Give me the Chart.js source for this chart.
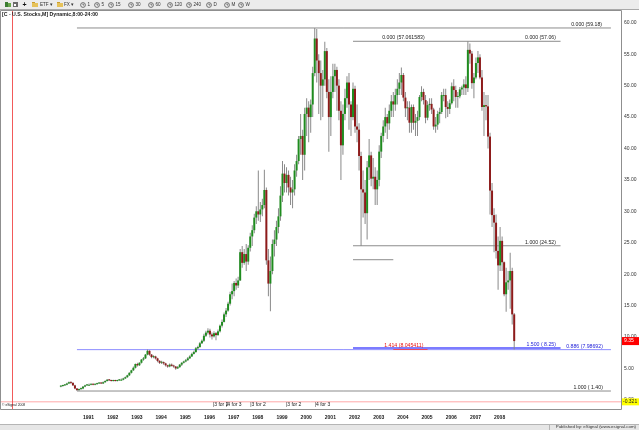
<!DOCTYPE html>
<html>
<head>
<meta charset="utf-8">
<script src="https://cdn.jsdelivr.net/npm/chart.js@4.4.0/dist/chart.umd.min.js"></script>
<style>
  html, body { margin: 0; padding: 0; background: #fff; }
  canvas { display: block; }
</style>
</head>
<body>
<canvas id="chart" width="639" height="430"></canvas>
<script>
// C monthly bars, Feb 1990 .. Nov 2008 (month index counted from Jan 1991)
const FIRST_MONTH = -11;
const FIRST_OPEN = 2.1;

const closes = [
  /*1990*/ 2.2, 2.3, 2.4, 2.6, 2.8, 2.7, 2.3, 1.8, 1.55, 1.7, 1.8,
  /*1991*/ 2.1, 2.3, 2.4, 2.4, 2.5, 2.4, 2.5, 2.6, 2.7, 2.6, 2.8, 3.0,
  /*1992*/ 3.2, 3.1, 3.0, 3.1, 3.0, 3.1, 3.2, 3.2, 3.4, 3.6, 3.9, 4.3,
  /*1993*/ 4.7, 5.1, 5.7, 5.5, 5.9, 6.4, 6.6, 7.2, 7.8, 7.2, 6.8, 6.9,
  /*1994*/ 6.6, 6.2, 5.9, 6.0, 5.8, 5.5, 5.3, 5.6, 5.4, 5.3, 5.0, 5.2,
  /*1995*/ 5.6, 5.9, 6.1, 6.3, 6.6, 6.9, 7.3, 7.6, 8.2, 8.4, 9.0, 9.4,
  /*1996*/ 10.2, 10.7, 11.0, 10.4, 10.1, 10.6, 10.3, 10.9, 11.8, 12.4, 13.6, 14.2,
  /*1997*/ 15.3, 16.8, 17.3, 18.6, 18.2, 19.0, 23.5, 21.8, 23.2, 22.0, 24.2, 26.0,
  /*1998*/ 27.0, 29.0, 30.0, 29.5, 30.3, 31.0, 33.4, 22.2, 18.5, 20.5, 24.8, 25.5,
  /*1999*/ 27.5, 29.2, 32.5, 36.0, 34.5, 35.8, 33.8, 33.0, 33.5, 36.5, 38.0, 41.5,
  /*2000*/ 42.0, 39.0, 45.5, 46.5, 45.0, 47.0, 52.0, 57.5, 54.0, 52.0, 50.0, 51.0,
  /*2001*/ 55.5, 49.0, 45.0, 49.0, 51.5, 52.5, 50.0, 46.0, 40.5, 45.5, 48.0, 50.5,
  /*2002*/ 47.0, 45.0, 49.5, 43.5, 43.0, 38.8, 33.5, 33.0, 29.7, 37.0, 38.9, 35.2,
  /*2003*/ 35.5, 33.5, 35.0, 39.5, 42.0, 43.5, 45.0, 44.0, 46.0, 47.5, 47.0, 48.5,
  /*2004*/ 49.5, 50.5, 51.7, 48.1, 46.4, 46.5, 44.1, 46.6, 44.1, 44.4, 45.0, 48.2,
  /*2005*/ 49.0, 47.7, 44.9, 46.9, 47.1, 46.2, 43.5, 43.8, 45.5, 45.8, 48.5, 48.5,
  /*2006*/ 46.6, 46.3, 47.2, 49.9, 49.3, 48.2, 48.3, 49.4, 49.7, 50.2, 49.6, 55.7,
  /*2007*/ 55.1, 50.4, 51.3, 53.6, 54.5, 51.3, 46.6, 46.9, 46.7, 41.9, 33.3, 29.4,
  /*2008*/ 28.2, 23.7, 21.4, 25.3, 21.9, 16.8, 18.7, 19.0, 20.5, 13.6, 9.35
];

const highs = [
  /*1990*/ 2.3, 2.4, 2.5, 2.7, 2.9, 2.9, 2.8, 2.4, 1.9, 1.8, 1.95,
  /*1991*/ 2.2, 2.4, 2.5, 2.6, 2.6, 2.6, 2.6, 2.7, 2.8, 2.8, 2.9, 3.1,
  /*1992*/ 3.3, 3.3, 3.2, 3.2, 3.2, 3.2, 3.3, 3.4, 3.5, 3.7, 4.0, 4.4,
  /*1993*/ 4.8, 5.3, 5.8, 5.9, 6.0, 6.5, 6.8, 7.3, 8.0, 7.9, 7.3, 7.1,
  /*1994*/ 7.0, 6.7, 6.3, 6.2, 6.1, 5.9, 5.6, 5.8, 5.8, 5.6, 5.4, 5.4,
  /*1995*/ 5.7, 6.0, 6.2, 6.5, 6.8, 7.1, 7.5, 7.8, 8.4, 8.6, 9.2, 9.6,
  /*1996*/ 10.5, 11.0, 11.4, 11.3, 10.7, 10.9, 10.8, 11.2, 12.0, 12.8, 13.9, 14.6,
  /*1997*/ 15.6, 17.2, 18.5, 18.9, 19.3, 19.6, 24.0, 24.5, 24.0, 24.8, 24.6, 26.6,
  /*1998*/ 27.8, 29.6, 30.8, 36.5, 31.5, 32.0, 36.6, 33.8, 24.0, 22.8, 25.5, 27.0,
  /*1999*/ 28.5, 30.5, 34.0, 38.0, 37.5, 37.0, 36.5, 35.5, 35.0, 37.5, 39.0, 42.0,
  /*2000*/ 45.5, 43.0, 46.5, 48.0, 47.5, 47.8, 53.0, 59.18, 59.0, 55.0, 54.0, 52.5,
  /*2001*/ 57.0, 56.0, 51.0, 51.5, 53.5, 53.5, 53.0, 51.0, 47.5, 47.0, 49.5, 51.5,
  /*2002*/ 52.0, 47.5, 50.5, 50.0, 47.0, 44.0, 39.5, 36.5, 35.0, 38.0, 41.5, 39.5,
  /*2003*/ 38.5, 37.0, 36.5, 40.5, 42.5, 44.5, 46.5, 45.5, 47.0, 48.5, 49.0, 49.5,
  /*2004*/ 51.0, 52.0, 52.9, 52.0, 49.0, 47.5, 47.5, 47.0, 47.0, 45.5, 46.0, 48.5,
  /*2005*/ 49.9, 49.5, 48.5, 47.5, 48.0, 48.0, 46.5, 45.0, 46.0, 46.5, 49.0, 49.5,
  /*2006*/ 49.5, 47.5, 47.8, 50.5, 51.0, 50.0, 49.0, 49.8, 50.0, 51.0, 51.5, 57.06,
  /*2007*/ 56.7, 55.5, 52.0, 54.5, 55.5, 55.0, 52.5, 49.0, 48.5, 48.5, 42.5, 34.5,
  /*2008*/ 30.5, 29.5, 26.0, 27.5, 26.0, 22.0, 21.0, 20.5, 23.4, 21.0, 13.8
];

const lows = [
  /*1990*/ 2.0, 2.1, 2.2, 2.3, 2.5, 2.5, 2.2, 1.7, 1.4, 1.45, 1.6,
  /*1991*/ 1.7, 2.0, 2.2, 2.3, 2.3, 2.3, 2.3, 2.4, 2.5, 2.5, 2.5, 2.7,
  /*1992*/ 2.9, 3.0, 2.9, 2.9, 2.9, 2.9, 3.0, 3.1, 3.1, 3.3, 3.5, 3.8,
  /*1993*/ 4.2, 4.6, 5.0, 5.3, 5.4, 5.8, 6.2, 6.5, 7.1, 7.0, 6.6, 6.6,
  /*1994*/ 6.4, 6.0, 5.7, 5.7, 5.6, 5.3, 5.1, 5.2, 5.3, 5.1, 4.8, 4.9,
  /*1995*/ 5.1, 5.4, 5.8, 6.0, 6.2, 6.5, 6.8, 7.2, 7.5, 8.0, 8.3, 8.9,
  /*1996*/ 9.2, 10.0, 10.4, 9.9, 9.6, 9.9, 9.5, 10.2, 10.7, 11.5, 12.3, 13.2,
  /*1997*/ 14.0, 15.0, 16.0, 16.5, 17.5, 17.8, 18.9, 21.0, 21.5, 20.5, 21.5, 23.6,
  /*1998*/ 24.5, 26.5, 28.0, 28.5, 28.3, 29.2, 30.5, 21.5, 16.5, 14.1, 20.0, 22.8,
  /*1999*/ 24.5, 26.5, 28.5, 31.5, 33.0, 33.0, 32.5, 31.0, 30.5, 32.5, 35.5, 37.5,
  /*2000*/ 39.0, 35.0, 36.5, 42.0, 41.0, 42.5, 45.0, 51.5, 50.5, 45.5, 44.5, 45.0,
  /*2001*/ 50.0, 48.0, 39.5, 42.0, 48.0, 49.0, 46.0, 44.5, 35.0, 39.0, 44.5, 46.5,
  /*2002*/ 43.0, 42.0, 44.5, 42.5, 41.0, 36.5, 24.5, 29.0, 28.0, 25.5, 35.0, 34.0,
  /*2003*/ 33.5, 31.0, 31.0, 34.0, 38.5, 41.0, 42.5, 41.5, 43.0, 45.0, 45.0, 46.0,
  /*2004*/ 47.0, 48.5, 48.5, 47.5, 45.0, 44.5, 42.5, 42.5, 43.0, 42.0, 42.0, 44.5,
  /*2005*/ 47.5, 47.0, 44.0, 44.5, 46.0, 45.5, 43.0, 42.5, 43.0, 44.0, 45.5, 47.5,
  /*2006*/ 44.8, 45.0, 45.5, 47.0, 47.5, 46.5, 46.5, 48.0, 48.5, 48.5, 48.5, 49.0,
  /*2007*/ 53.5, 49.5, 48.0, 51.0, 52.0, 51.0, 46.0, 42.0, 44.5, 40.0, 29.5, 27.5,
  /*2008*/ 23.5, 22.5, 17.5, 20.5, 20.5, 16.5, 14.0, 17.5, 14.5, 12.0, 8.0
];

const yearLabels = ['1991', '1992', '1993', '1994', '1995', '1996', '1997', '1998', '1999',
  '2000', '2001', '2002', '2003', '2004', '2005', '2006', '2007', '2008'];
const priceTicks = [0, 5, 10, 15, 20, 25, 30, 35, 40, 45, 50, 55, 60];

// drawn fibonacci / study levels: value, start month, end month
const levelValues = [59.18, 57.061583, 24.52, 22.3, 8.25, 8.045411, 7.98692, 1.40, -0.321];
const levelFrom = [-3, 134, 134, 134, 134, 154, -3, -3, -41];
const levelTo = [262, 237, 237, 154, 237, 171, 262, 262, 267];
const levelColors = ['#8c8c8c', '#8c8c8c', '#8c8c8c', '#8c8c8c', '#7c7cff', '#ff3030', '#8c8cff', '#8c8c8c', '#ffa8a8'];
const levelWidths = [1, 1, 1, 1, 2, 1, 1, 1, 1];

const levelTexts = ['0.000 (59.18)', '0.000 (57.061583)', '0.000 (57.06)', '1.000 (24.52)',
  '1.500 ( 8.25)', '1.414 (8.045411)', '0.886 (7.98692)', '1.000 ( 1.40)'];
const levelTextValue = [59.18, 57.061583, 57.061583, 24.52, 8.25, 8.045411, 7.98692, 1.40];
const levelTextAt = [257.6, 148.5, 234.7, 234.7, 234.7, 149.5, 258, 258];
const levelTextAlign = ['right', 'left', 'right', 'right', 'right', 'left', 'right', 'right'];
const levelTextColor = ['#222', '#222', '#222', '#222', '#2323d8', '#e81010', '#2323d8', '#222'];

// stock split markers
const splitMonths = [64.5, 71, 83, 100.7, 115];
const splitTexts = ['3 for 2', '4 for 3', '3 for 2', '3 for 2', '4 for 3'];

const studyValue = -0.321;
const cursorMonth = -35.2;

const UP = '#1f8c1f';
const DOWN = '#8e1b1b';
const WICK = '#8a8a8a';
const FONT = '"Liberation Sans", Arial, sans-serif';

const opens = closes.map((c, i) => i === 0 ? FIRST_OPEN : closes[i - 1]);
const months = closes.map((_, i) => FIRST_MONTH + i);

const wickData = closes.map((c, i) => ({
  x: months[i],
  y: [Math.min(lows[i], opens[i], c), Math.max(highs[i], opens[i], c)]
}));
const bodyData = closes.map((c, i) => ({ x: months[i], y: [opens[i], c] }));
const bodyColors = closes.map((c, i) => c >= opens[i] ? UP : DOWN);

const levelSets = levelValues.map((v, i) => ({
  type: 'line',
  data: [{ x: levelFrom[i], y: v }, { x: levelTo[i], y: v }],
  borderColor: levelColors[i],
  borderWidth: levelWidths[i],
  pointRadius: 0,
  order: 3
}));

const chrome = {
  id: 'chrome',
  beforeDraw(chart) {
    const { ctx, width, height, chartArea: a } = chart;
    ctx.save();
    ctx.fillStyle = '#fff';
    ctx.fillRect(0, 0, width, height);

    // toolbar strip
    ctx.fillStyle = '#ececec';
    ctx.fillRect(0, 0, width, 9);
    ctx.fillStyle = '#a9a9a9';
    ctx.fillRect(0, 9, width, 1);
    ctx.fillStyle = '#3d7d33'; ctx.fillRect(5, 2, 3, 5);
    ctx.fillStyle = '#69a84c'; ctx.fillRect(8, 3, 3, 4);
    ctx.fillStyle = '#6b6b6b'; ctx.fillRect(13, 2, 5, 5);
    ctx.fillStyle = '#fff'; ctx.fillRect(14, 4, 2, 2);
    ctx.fillStyle = '#111';
    ctx.font = 'bold 7px ' + FONT;
    ctx.textBaseline = 'middle';
    ctx.fillText('+', 22.5, 5);
    [32, 57].forEach(fx => {
      ctx.fillStyle = '#e6c25a'; ctx.fillRect(fx, 3, 6, 4);
      ctx.fillStyle = '#c99c2e'; ctx.fillRect(fx, 2, 3, 1);
    });
    ctx.fillStyle = '#333';
    ctx.font = '4.6px ' + FONT;
    ctx.fillText('ETF \u25BE', 40, 5);
    ctx.fillText('FX \u25BE', 64, 5);
    const clocks = [[83, '1'], [97, '5'], [111, '15'], [131, '30'], [151, '60'],
      [170, '120'], [189, '240'], [209, 'D'], [227, 'M'], [241, 'W']];
    clocks.forEach(([cx, t]) => {
      ctx.strokeStyle = '#555';
      ctx.lineWidth = 0.8;
      ctx.beginPath(); ctx.arc(cx, 5, 2.4, 0, Math.PI * 2); ctx.stroke();
      ctx.beginPath(); ctx.moveTo(cx, 3.6); ctx.lineTo(cx, 5); ctx.lineTo(cx + 1.2, 5); ctx.stroke();
      ctx.fillStyle = '#333';
      ctx.fillText(t, cx + 4.5, 5);
    });

    // status bar
    ctx.fillStyle = '#e6e6e6';
    ctx.fillRect(0, height - 6, width, 6);
    ctx.fillStyle = '#b5b5b5';
    ctx.fillRect(0, height - 6, width, 1);
    ctx.fillRect(549, height - 6, 1, 6);
    ctx.fillStyle = '#333';
    ctx.font = '4.4px ' + FONT;
    ctx.textAlign = 'right';
    ctx.fillText('Published by: eSignal (www.esignal.com)', 636, height - 2.8);
    ctx.restore();
  },
  afterDatasetsDraw(chart) {
    const { ctx, chartArea: a, scales: { x, y } } = chart;
    ctx.save();
    // level captions
    ctx.font = '5.2px ' + FONT;
    ctx.textBaseline = 'bottom';
    levelTexts.forEach((t, i) => {
      ctx.fillStyle = levelTextColor[i];
      ctx.textAlign = levelTextAlign[i];
      ctx.fillText(t, x.getPixelForValue(levelTextAt[i]), y.getPixelForValue(levelTextValue[i]) - 0.8);
    });

    // cursor line
    const cx = Math.round(x.getPixelForValue(cursorMonth)) + 0.5;
    ctx.strokeStyle = '#f25a5a';
    ctx.lineWidth = 1;
    ctx.beginPath(); ctx.moveTo(cx, a.top); ctx.lineTo(cx, a.bottom); ctx.stroke();

    // split markers and copyright, in the strip under the study line
    ctx.fillStyle = '#222';
    ctx.font = '5px ' + FONT;
    ctx.textAlign = 'left';
    ctx.textBaseline = 'middle';
    const sy = a.bottom - 4;
    splitMonths.forEach((m, i) => {
      ctx.fillText('|' + splitTexts[i], x.getPixelForValue(m), sy);
    });
    ctx.font = '3.4px ' + FONT;
    ctx.fillText('\u00A9 eSignal 2008', 2, sy);

    // title
    ctx.font = 'bold 5.2px ' + FONT;
    ctx.fillStyle = '#1a1a1a';
    ctx.fillText('[C - U.S. Stocks,M] Dynamic,8:00-24:00', 2, a.top + 4.3);

    // frame
    ctx.strokeStyle = '#8f8f8f';
    ctx.beginPath();
    ctx.moveTo(0.5, a.top + 0.5); ctx.lineTo(a.right + 0.5, a.top + 0.5);
    ctx.lineTo(a.right + 0.5, a.bottom + 0.5); ctx.lineTo(0.5, a.bottom + 0.5);
    ctx.closePath();
    ctx.stroke();
    ctx.restore();
  },
  afterDraw(chart) {
    const { ctx, width, chartArea: a, scales: { y } } = chart;
    ctx.save();
    ctx.font = '5px ' + FONT;
    ctx.textBaseline = 'middle';
    ctx.textAlign = 'left';
    const last = closes[closes.length - 1];
    const ry = y.getPixelForValue(last);
    ctx.fillStyle = '#ff0000';
    ctx.fillRect(a.right + 1, ry - 4, width - a.right - 1, 8);
    ctx.fillStyle = '#fff';
    ctx.fillText(last.toFixed(2), a.right + 3, ry);
    const yy = y.getPixelForValue(studyValue);
    ctx.fillStyle = '#ffff00';
    ctx.fillRect(a.right + 1, yy - 3.5, width - a.right - 1, 7);
    ctx.fillStyle = '#222';
    ctx.fillText(studyValue.toFixed(3), a.right + 2, yy);
    ctx.restore();
  }
};

new Chart(document.getElementById('chart'), {
  type: 'bar',
  data: {
    datasets: [
      {
        data: bodyData,
        backgroundColor: bodyColors,
        barThickness: 2,
        minBarLength: 1,
        grouped: false,
        inflateAmount: 0,
        borderWidth: 0,
        order: 0
      },
      {
        data: wickData,
        backgroundColor: WICK,
        barThickness: 1,
        grouped: false,
        inflateAmount: 0,
        borderWidth: 0,
        order: 1
      },
      ...levelSets
    ]
  },
  options: {
    responsive: false,
    animation: false,
    devicePixelRatio: 1,
    layout: { padding: { left: 1, top: 10, right: 0, bottom: 6 } },
    plugins: { legend: { display: false }, tooltip: { enabled: false } },
    scales: {
      x: {
        type: 'linear',
        min: -40.7,
        max: 267,
        offset: false,
        grid: { display: false, drawTicks: false },
        border: { display: false },
        afterBuildTicks: s => { s.ticks = yearLabels.map((_, i) => ({ value: i * 12 })); },
        afterFit: s => { s.height = 15; },
        ticks: {
          align: 'start',
          autoSkip: false,
          maxRotation: 0,
          minRotation: 0,
          padding: 6,
          color: '#1a1a1a',
          font: { family: FONT, size: 5, weight: 'bold' },
          callback: (v, i) => yearLabels[i]
        }
      },
      y: {
        position: 'right',
        min: -1.46,
        max: 62.04,
        grid: { display: false, drawTicks: false },
        border: { display: false },
        afterBuildTicks: s => { s.ticks = priceTicks.map(v => ({ value: v })); },
        afterFit: s => { s.width = 18; },
        ticks: {
          padding: 3,
          autoSkip: false,
          color: '#333',
          font: { family: FONT, size: 5 },
          callback: v => Number(v).toFixed(2)
        }
      }
    }
  },
  plugins: [chrome]
});
</script>
</body>
</html>
